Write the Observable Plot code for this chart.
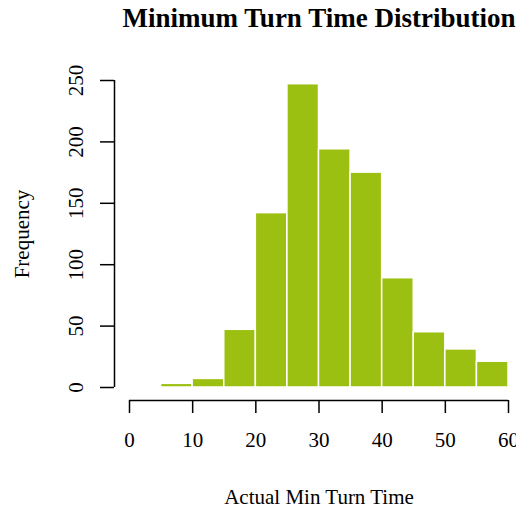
<!DOCTYPE html>
<html>
<head>
<meta charset="utf-8">
<script src="https://cdn.jsdelivr.net/npm/d3@7"></script>
<script src="https://cdn.jsdelivr.net/npm/@observablehq/plot@0.6"></script>
<style>
  html, body { margin: 0; padding: 0; background: #fff; }
  #chart svg { display: block; }
</style>
</head>
<body>
<div id="chart"></div>
<script>
const binStart = [5, 10, 15, 20, 25, 30, 35, 40, 45, 50, 55];
const binEnd   = [10, 15, 20, 25, 30, 35, 40, 45, 50, 55, 60];
const counts   = [3, 7, 47, 142, 247, 194, 175, 89, 45, 31, 21];
const xTicks = [0, 10, 20, 30, 40, 50, 60];
const yTicks = [0, 50, 100, 150, 200, 250];
const title = "Minimum Turn Time Distribution";
const xLabel = "Actual Min Turn Time";
const yLabel = "Frequency";

const bins = binStart.map((s, i) => ({x1: s, x2: binEnd[i], y: counts[i]}));
const font = "'Liberation Serif', 'Times New Roman', serif";

const chart = Plot.plot({
  width: 516,
  height: 508,
  marginLeft: 129,
  marginRight: 8,
  marginTop: 80,
  marginBottom: 121,
  style: {fontFamily: font, fontSize: "21px", background: "white", overflow: "visible"},
  x: {domain: [0, 60]},
  y: {domain: [0, 250]},
  marks: [
    Plot.rectY(bins, {x1: "x1", x2: "x2", y: "y", fill: "#9cc011", stroke: "white", strokeWidth: 1.5, insetLeft: 0, insetRight: 0}),
    Plot.ruleY([0], {x1: 0, x2: 60, dy: 13, stroke: "black", strokeWidth: 1.5}),
    Plot.axisX(xTicks, {tickSize: 13, dy: 13, tickPadding: 19, label: null, fontSize: 21, stroke: "black", strokeWidth: 1.5}),
    Plot.ruleX([0], {y1: 0, y2: 250, dx: -15, stroke: "black", strokeWidth: 1.5}),
    Plot.axisY(yTicks, {tickSize: 14, dx: -15, tickPadding: 18, tickRotate: -90, label: null, fontSize: 21, stroke: "black", strokeWidth: 1.5}),
    Plot.text([title], {frameAnchor: "top", dy: -73, fontSize: 27, fontWeight: "bold", lineAnchor: "top"}),
    Plot.text([xLabel], {frameAnchor: "bottom", dy: 116, fontSize: 21}),
    Plot.text([yLabel], {frameAnchor: "left", dx: -107, rotate: -90, textAnchor: "middle", fontSize: 21})
  ]
});
document.getElementById("chart").appendChild(chart);
</script>
</body>
</html>
